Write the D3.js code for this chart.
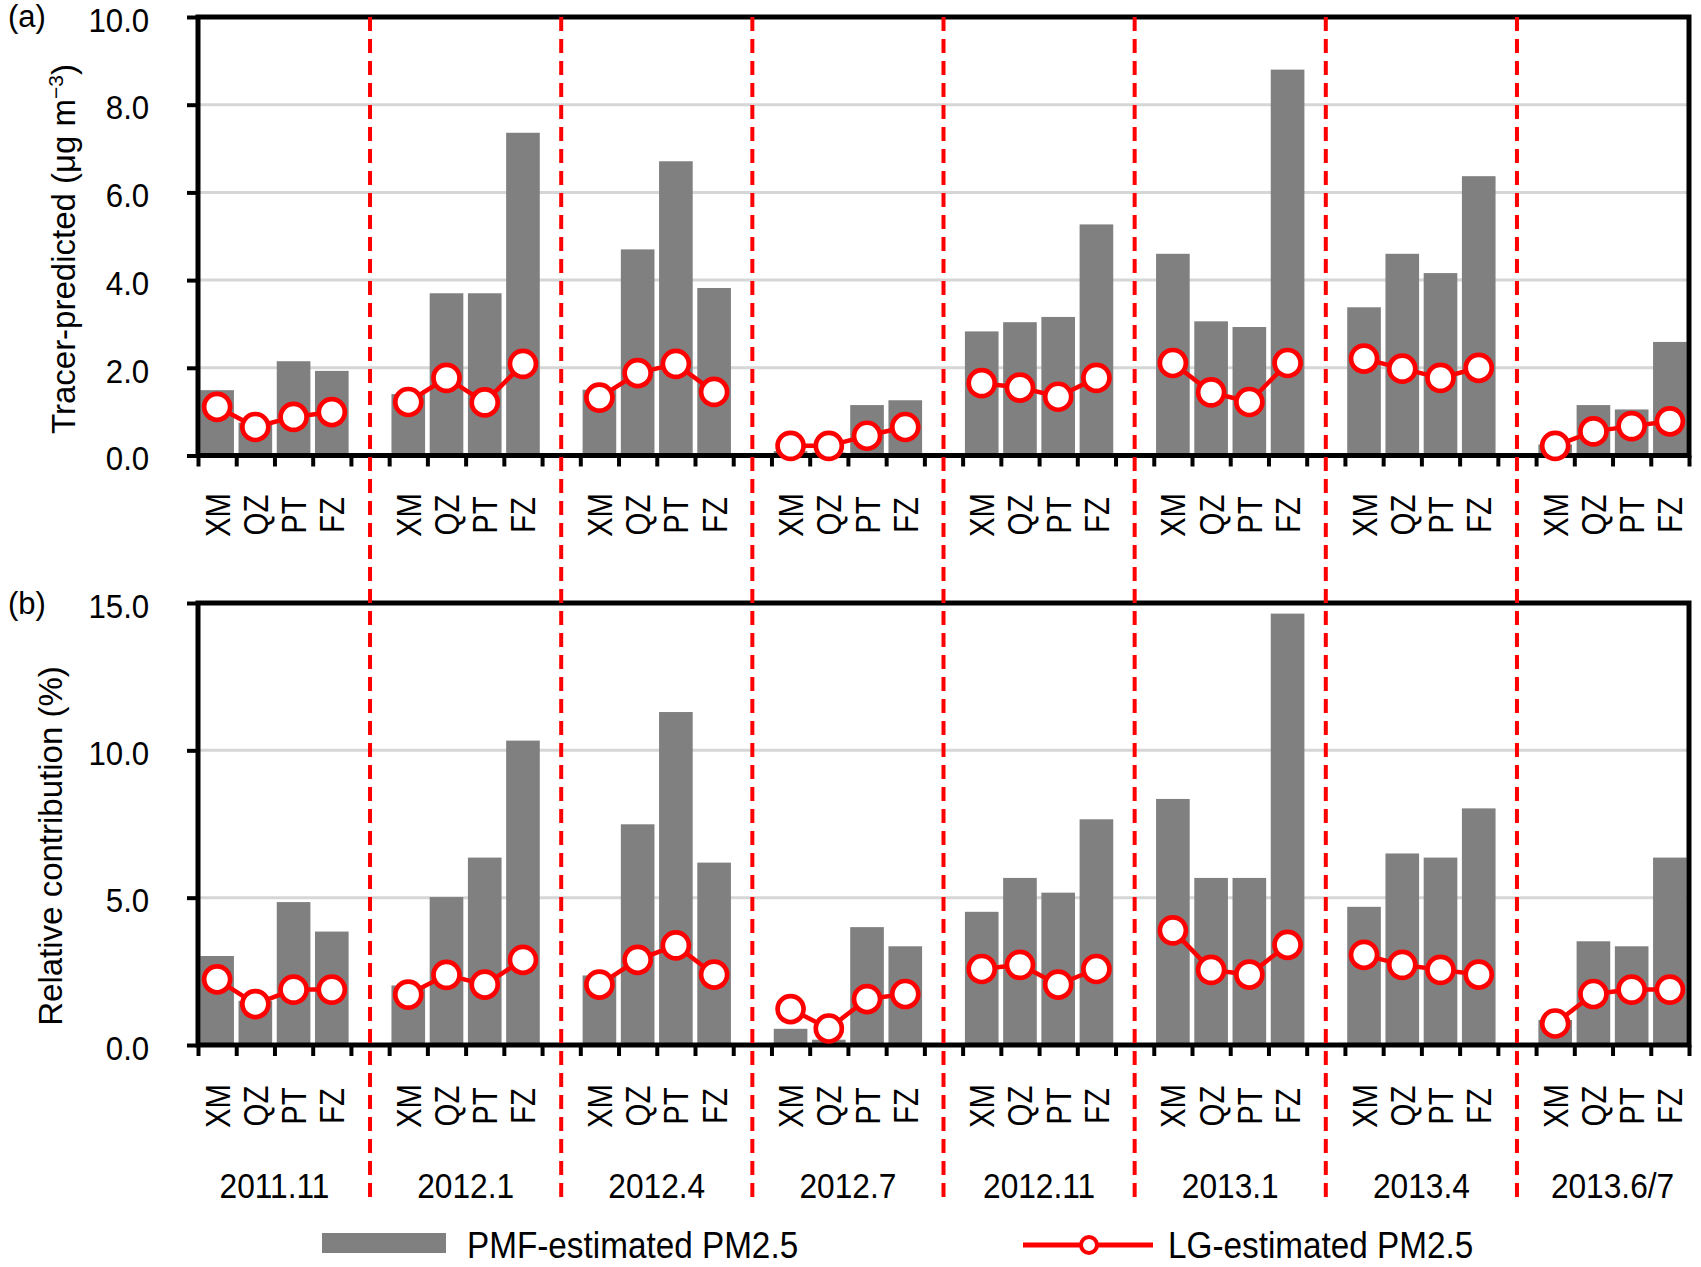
<!DOCTYPE html>
<html><head><meta charset="utf-8">
<script src="https://cdn.jsdelivr.net/npm/d3@7"></script>
<style>
body{margin:0;background:#fff}
svg{display:block;background:#fff}
text{font-family:"Liberation Sans",Arial,Helvetica,sans-serif;fill:#000}
</style>
</head><body>
<svg id="c" width="1701" height="1267"></svg>
<script>
// ---------- data ----------
const periods = ["2011.11","2012.1","2012.4","2012.7","2012.11","2013.1","2013.4","2013.6/7"];
const sites = ["XM","QZ","PT","FZ"];

// (a) Tracer-predicted, µg m-3
const pmfA = [
  [1.49, 0.75, 2.15, 1.93],
  [1.40, 3.70, 3.70, 7.36],
  [1.50, 4.70, 6.71, 3.82],
  [0.10, 0.07, 1.15, 1.26],
  [2.83, 3.04, 3.16, 5.27],
  [4.60, 3.06, 2.93, 8.80],
  [3.38, 4.60, 4.16, 6.37],
  [0.25, 1.15, 1.05, 2.59]
];
const lgA = [
  [1.11, 0.65, 0.88, 0.99],
  [1.22, 1.77, 1.21, 2.09],
  [1.32, 1.88, 2.09, 1.45],
  [0.22, 0.22, 0.45, 0.65],
  [1.65, 1.55, 1.34, 1.77],
  [2.11, 1.44, 1.22, 2.11],
  [2.21, 1.98, 1.77, 2.00],
  [0.22, 0.55, 0.67, 0.78]
];
// (b) Relative contribution, %
const pmfB = [
  [3.02, 1.50, 4.85, 3.85],
  [2.02, 5.02, 6.36, 10.33],
  [2.36, 7.49, 11.30, 6.19],
  [0.55, 0.18, 4.00, 3.35],
  [4.52, 5.67, 5.17, 7.66],
  [8.35, 5.67, 5.67, 14.64],
  [4.69, 6.50, 6.36, 8.03],
  [0.85, 3.52, 3.35, 6.36]
];
const lgB = [
  [2.23, 1.39, 1.88, 1.88],
  [1.71, 2.38, 2.05, 2.89],
  [2.05, 2.89, 3.38, 2.39],
  [1.22, 0.56, 1.56, 1.73],
  [2.58, 2.72, 2.05, 2.58],
  [3.89, 2.55, 2.39, 3.40],
  [3.06, 2.72, 2.55, 2.39],
  [0.73, 1.73, 1.88, 1.88]
];
const yTicksA = [0, 2, 4, 6, 8, 10];
const yTicksB = [0, 5, 10, 15];
const legendLabels = ["PMF-estimated PM2.5", "LG-estimated PM2.5"];

// ---------- layout ----------
const svg = d3.select("#c");
const L = 198, R = 1689;
const RED = "#ff0000", GRAY = "#808080";

const keys = [];
periods.forEach((p, gi) => {
  sites.forEach(s => keys.push(p + "|" + s));
  if (gi < periods.length - 1) keys.push("gap" + gi);
});
const x = d3.scaleBand().domain(keys).range([L, R]).paddingInner(0.12).paddingOuter(0.06);
const bw = x.bandwidth();
const cx = k => x(k) + bw / 2;
const xb = d3.scaleLinear().domain([0, keys.length]).range([L, R]);

function panel(cfg) {
  const y = d3.scaleLinear().domain([0, cfg.max]).range([cfg.bottom, cfg.top]);
  const g = svg.append("g");
  // grid
  g.selectAll("line.grid").data(cfg.ticks.filter(t => t > 0 && t < cfg.max)).join("line")
    .attr("class", "grid")
    .attr("x1", L).attr("x2", R).attr("y1", d => y(d)).attr("y2", d => y(d))
    .attr("stroke", "#d6d6d6").attr("stroke-width", 3);
  // bars
  const flat = [];
  periods.forEach((p, gi) => sites.forEach((s, si) => flat.push({k: p + "|" + s, v: cfg.pmf[gi][si], lg: cfg.lg[gi][si], gi})));
  g.selectAll("rect.bar").data(flat).join("rect").attr("class", "bar")
    .attr("x", d => x(d.k)).attr("width", bw)
    .attr("y", d => y(d.v)).attr("height", d => y(0) - y(d.v))
    .attr("fill", GRAY);
  // frame
  g.append("rect").attr("x", L).attr("y", cfg.top).attr("width", R - L).attr("height", cfg.bottom - cfg.top)
    .attr("fill", "none").attr("stroke", "#000").attr("stroke-width", 5);
  // left axis
  const ax = g.append("g").attr("transform", `translate(${L},0)`)
    .call(d3.axisLeft(y).tickValues(cfg.ticks).tickSize(11).tickSizeOuter(0).tickPadding(42).tickFormat(d3.format(".1f")));
  ax.select(".domain").remove();
  ax.selectAll(".tick line").attr("stroke", "#000").attr("stroke-width", 4);
  ax.selectAll(".tick text").attr("font-size", 34).attr("dy", "0.42em")
    .attr("font-family", '"Liberation Sans",Arial,sans-serif')
    .attr("transform", "scale(0.92,1)");
  // bottom axis ticks at category boundaries
  const bx = g.append("g").attr("transform", `translate(0,${cfg.bottom})`)
    .call(d3.axisBottom(xb).tickValues(d3.range(keys.length + 1)).tickSize(11).tickSizeOuter(0).tickFormat(""));
  bx.select(".domain").remove();
  bx.selectAll(".tick line").attr("stroke", "#000").attr("stroke-width", 4);
  // station labels
  g.selectAll("text.site").data(flat).join("text").attr("class", "site")
    .attr("transform", d => `translate(${cx(d.k) + 12.5},${cfg.labelY}) rotate(-90) scale(0.84,1)`)
    .attr("text-anchor", "middle").attr("font-size", 35)
    .text(d => d.k.split("|")[1]);
  // LG lines + markers
  const line = d3.line().x(d => cx(d.k)).y(d => y(d.lg));
  periods.forEach((p, gi) => {
    const pts = flat.filter(d => d.gi === gi);
    g.append("path").datum(pts).attr("d", line).attr("fill", "none")
      .attr("stroke", RED).attr("stroke-width", 4.5);
  });
  cfg.markers = () => {
    g.selectAll("circle.lg").data(flat).join("circle").attr("class", "lg")
      .attr("cx", d => cx(d.k)).attr("cy", d => y(d.lg)).attr("r", 13)
      .attr("fill", "#fff").attr("stroke", RED).attr("stroke-width", 4.7);
  };
  // axis title
  const t = g.append("text").attr("transform", `translate(${cfg.titleX},${cfg.titleY}) rotate(-90)`)
    .attr("text-anchor", "middle").attr("font-size", 33);
  cfg.title(t);
  // panel label
  g.append("text").attr("x", 8).attr("y", cfg.labelBase).attr("font-size", 31).text(cfg.name);
  return cfg;
}

const pa = panel({
  top: 17, bottom: 455.5, max: 10, ticks: yTicksA, pmf: pmfA, lg: lgA,
  labelY: 515, titleX: 75, titleY: 249, name: "(a)", labelBase: 27,
  title: t => {
    t.append("tspan").text("Tracer-predicted (μg m");
    t.append("tspan").attr("dy", -12).attr("font-size", 21).text("−3");
    t.append("tspan").attr("dy", 12).text(")");
  }
});
const pb = panel({
  top: 603, bottom: 1045, max: 15, ticks: yTicksB, pmf: pmfB, lg: lgB,
  labelY: 1106, titleX: 62, titleY: 846, name: "(b)", labelBase: 614,
  title: t => t.text("Relative contribution (%)")
});

// dashed separators
const gaps = keys.filter(k => k.startsWith("gap"));
svg.append("g").selectAll("line").data(gaps).join("line")
  .attr("x1", d => cx(d)).attr("x2", d => cx(d))
  .attr("y1", 17).attr("y2", 1200)
  .attr("stroke", RED).attr("stroke-width", 4).attr("stroke-dasharray", "14,8");

pa.markers();
pb.markers();

// period labels
svg.append("g").selectAll("text").data(periods).join("text")
  .attr("transform", (p) => {
    const xc = (cx(p + "|XM") + cx(p + "|FZ")) / 2;
    return `translate(${xc},1198) scale(0.88,1)`;
  })
  .attr("text-anchor", "middle").attr("font-size", 36).text(d => d);

// legend
const lg = svg.append("g");
lg.append("rect").attr("x", 322).attr("y", 1233).attr("width", 124).attr("height", 20).attr("fill", GRAY);
lg.append("text").attr("transform", "translate(467,1258) scale(0.9,1)").attr("font-size", 37).text(legendLabels[0]);
lg.append("line").attr("x1", 1023).attr("x2", 1153).attr("y1", 1245).attr("y2", 1245)
  .attr("stroke", RED).attr("stroke-width", 5);
lg.append("circle").attr("cx", 1089).attr("cy", 1245).attr("r", 8)
  .attr("fill", "#fff").attr("stroke", RED).attr("stroke-width", 4);
lg.append("text").attr("transform", "translate(1168,1258) scale(0.9,1)").attr("font-size", 37).text(legendLabels[1]);
</script>
</body></html>
